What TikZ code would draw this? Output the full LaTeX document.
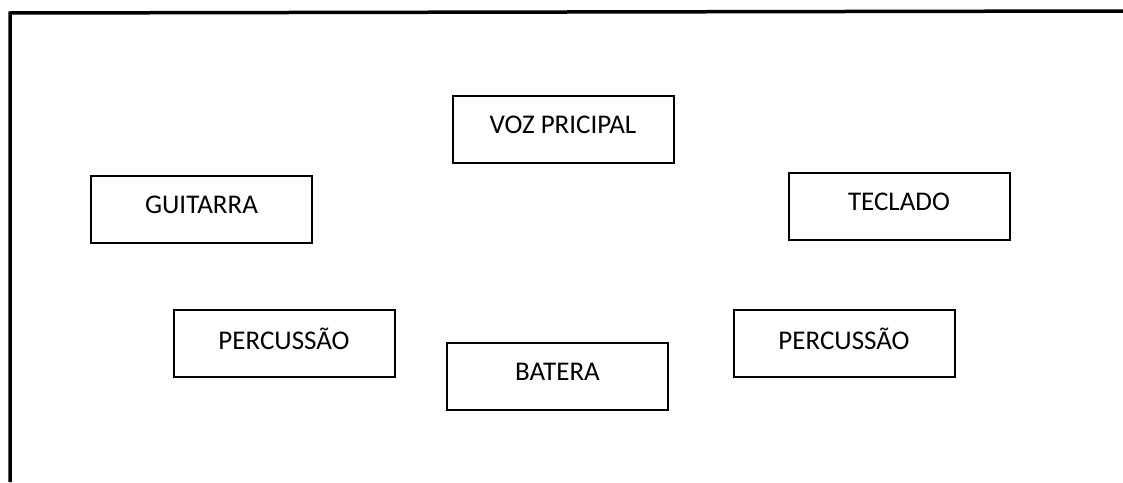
\documentclass[tikz,border=0pt]{standalone}
\usepackage{fontspec}
\setmainfont{Carlito}
\usepackage{tikz}
\usetikzlibrary{positioning}

\begin{document}
\begin{tikzpicture}[
    x=1pt, y=-1pt,
    part/.style={rectangle, draw=black, line width=2pt, minimum width=221pt, minimum height=67pt, text depth=9pt, align=center, font=\fontsize{27}{30}\selectfont},
    frame/.style={draw=black, line width=3.5pt}
]
\useasboundingbox (0,0) rectangle (1123,482);

% Frame (top and left only)
\coordinate (ftl) at (10,13);
\coordinate (ftr) at (1123,11);
\coordinate (fbl) at (10,482);
\draw[frame] (ftr) -- (ftl) -- (fbl);

% Band members
\node[part] (voz) at (563,129.5) {VOZ PRICIPAL};
\node[part] (guitarra) at (201.5,209) {GUITARRA};
\node[part] (teclado) at (899,206.5) {TECLADO};
\node[part] (percesq) at (284,343.5) {PERCUSSÃO};
\node[part] (batera) at (557.5,376.5) {BATERA};
\node[part] (percdir) at (844,343.5) {PERCUSSÃO};
\end{tikzpicture}
\end{document}
